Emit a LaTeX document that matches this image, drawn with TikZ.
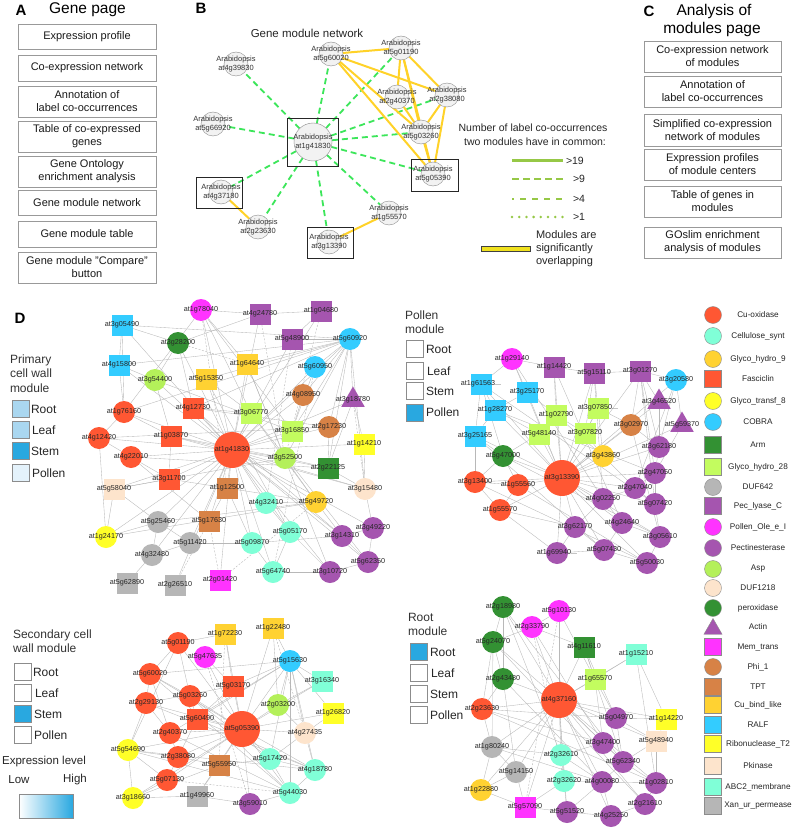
\documentclass[tikz,border=0pt]{standalone}
\usepackage{fontspec}
\setmainfont{Liberation Sans}
\usetikzlibrary{shapes.geometric,backgrounds}
\pgfdeclarelayer{bgw}
\pgfsetlayers{bgw,background,main}
\definecolor{cCu}{RGB}{255,87,51}
\definecolor{cCel}{RGB}{128,255,215}
\definecolor{cGold}{RGB}{255,210,50}
\definecolor{cYel}{RGB}{255,255,40}
\definecolor{cCob}{RGB}{51,204,255}
\definecolor{cDkg}{RGB}{51,145,51}
\definecolor{cLg}{RGB}{195,252,95}
\definecolor{cAsp}{RGB}{180,240,90}
\definecolor{cGray}{RGB}{182,182,182}
\definecolor{cPur}{RGB}{165,85,175}
\definecolor{cMag}{RGB}{255,51,255}
\definecolor{cPk}{RGB}{253,228,204}
\definecolor{cPhi}{RGB}{215,130,70}
\definecolor{cSt}{RGB}{41,168,224}
\definecolor{cLb}{RGB}{170,215,240}
\definecolor{cPb}{RGB}{228,242,251}
\definecolor{cGr}{RGB}{60,230,90}
\definecolor{cYl}{RGB}{255,210,40}
\definecolor{cLeg}{RGB}{150,200,70}
\definecolor{cBar}{RGB}{240,225,30}
\newcommand\netnode[5]{\node[#1,label={[glbl]center:#5}] (#2) at (#3,#4) {};}
\newcommand\bnode[5]{\node[bcir,#1,label={[blbl]center:Arabidopsis\\#5}] (#2) at (#3,#4) {};}
\newcommand\legsym[4]{\node[#1,lsym] (#2) at (713,#3) {}; \node[ltxt] (#2t) at (758,#3) {#4};}
\tikzset{
  every node/.style={inner sep=0pt,outer sep=0pt},
  tlet/.style={font=\fontsize{15}{17}\selectfont\bfseries},
  ttl/.style={font=\fontsize{15.5}{17}\selectfont},
  abox/.style={draw=black!40,line width=0.5pt,minimum width=138pt,align=center,font=\fontsize{11}{13}\selectfont,text=black!90},
  glbl/.style={font=\fontsize{7.2}{8}\selectfont,text=black!85},
  blbl/.style={font=\fontsize{7.5}{9}\selectfont,text=black!80,align=center},
  bcir/.style={circle,minimum size=24pt,fill=black!5,draw=black!45,line width=0.4pt},
  bsq/.style={draw=black!85,line width=0.7pt},
  gbase/.style={draw=none},
  ncir/.style={gbase,circle,minimum size=22pt},
  nsq/.style={gbase,rectangle,minimum size=21pt},
  ntri/.style={gbase,regular polygon,regular polygon sides=3,minimum size=27pt},
  ncu/.style={ncir,fill=cCu}, nfas/.style={nsq,fill=cCu},
  nralf/.style={nsq,fill=cCob}, ncob/.style={ncir,fill=cCob},
  nper/.style={ncir,fill=cDkg}, narm/.style={nsq,fill=cDkg},
  nasp/.style={ncir,fill=cAsp}, ngh/.style={nsq,fill=cLg},
  npk/.style={nsq,fill=cPk}, nd12/.style={ncir,fill=cPk},
  npol/.style={ncir,fill=cMag}, nmem/.style={nsq,fill=cMag},
  npecl/.style={nsq,fill=cPur}, npect/.style={ncir,fill=cPur}, nact/.style={ntri,fill=cPur},
  nphi/.style={ncir,fill=cPhi}, ntpt/.style={nsq,fill=cPhi},
  ncub/.style={nsq,fill=cGold}, ngh9/.style={ncir,fill=cGold},
  ngt/.style={ncir,fill=cYel}, nrib/.style={nsq,fill=cYel},
  ncel/.style={ncir,fill=cCel}, nabc/.style={nsq,fill=cCel},
  nd64/.style={ncir,fill=cGray}, nxan/.style={nsq,fill=cGray},
  nhub/.style={ncir,fill=cCu,minimum size=36pt},
  lsym/.style={draw=black!45,line width=0.4pt,minimum size=17pt},
  ltxt/.style={font=\fontsize{8.2}{10}\selectfont,text=black!85},
  lgbox/.style={draw=black!45,line width=0.6pt,minimum size=17pt},
  lgtxt/.style={font=\fontsize{12}{14}\selectfont,anchor=west,text=black!85},
  gedge/.style={draw=black!28,line width=0.35pt},
  gdash/.style={draw=black!30,line width=0.35pt,dash pattern=on 2pt off 1.5pt},
  gline/.style={draw=cGr,line width=1.8pt,dash pattern=on 6pt off 4pt},
  yline/.style={draw=cYl,line width=2pt},
}
\begin{document}
\begin{tikzpicture}[x=1pt,y=-1pt]
\useasboundingbox (0,0) rectangle (793,829);
\begin{pgfonlayer}{bgw}
\fill[white] (0,0) rectangle (793,829);
\end{pgfonlayer}
% ---------------- Panel A
\node[tlet] (lA) at (21,10) {A};
\node[ttl] (tA) at (87.5,10) {Gene page};
\node[abox,minimum height=25pt] (a1) at (87,36.5) {Expression profile};
\node[abox,minimum height=26pt] (a2) at (87,68) {Co-expression network};
\node[abox,minimum height=31pt] (a3) at (87,101.5) {Annotation of\\label co-occurrences};
\node[abox,minimum height=31pt] (a4) at (87,136.5) {Table of co-expressed\\genes};
\node[abox,minimum height=31pt] (a5) at (87,171.5) {Gene Ontology\\enrichment analysis};
\node[abox,minimum height=25pt] (a6) at (87,202.5) {Gene module network};
\node[abox,minimum height=26pt] (a7) at (87,234) {Gene module table};
\node[abox,minimum height=31pt] (a8) at (87,267.5) {Gene module "Compare"\\button};
% ---------------- Panel C
\node[tlet] (lC) at (649,11) {C};
\node[ttl] (tC1) at (714,11) {Analysis of};
\node[ttl] (tC2) at (712,29) {modules page};
\node[abox,minimum width=137pt,minimum height=31pt] (c1) at (712.5,56.5) {Co-expression network\\of modules};
\node[abox,minimum width=137pt,minimum height=31pt] (c2) at (712.5,91.5) {Annotation of\\label co-occurrences};
\node[abox,minimum width=137pt,minimum height=32pt] (c3) at (712.5,130) {Simplified co-expression\\network of modules};
\node[abox,minimum width=137pt,minimum height=31pt] (c4) at (712.5,164.5) {Expression profiles\\of module centers};
\node[abox,minimum width=137pt,minimum height=31pt] (c5) at (712.5,201.5) {Table of genes in\\modules};
\node[abox,minimum width=137pt,minimum height=31pt] (c6) at (712.5,242.5) {GOslim enrichment\\analysis of modules};
% ---------------- Panel B
\node[tlet] (lB) at (201,8) {B};
\node[font=\fontsize{11.5}{13}\selectfont,text=black!85] (tB) at (307,33) {Gene module network};
\bnode{minimum size=38pt}{B0}{313}{142}{at1g41830}
\bnode{}{B1}{236}{64}{at4g39830}
\bnode{}{B2}{331}{54}{at5g60020}
\bnode{}{B3}{401}{48}{at5g01190}
\bnode{}{B4}{397}{97}{at2g40370}
\bnode{}{B5}{447}{95}{at2g38080}
\bnode{}{B6}{421}{132}{at5g03260}
\bnode{}{B7}{433}{174}{at5g05390}
\bnode{}{B8}{213}{124}{at5g66920}
\bnode{}{B9}{221}{192}{at4g37180}
\bnode{}{B10}{258}{227}{at2g23630}
\bnode{}{B11}{329}{242}{at3g13390}
\bnode{}{B12}{389}{213}{at1g55570}
\node[bsq,minimum width=51pt,minimum height=48pt] (bx0) at (312.5,142) {};
\node[bsq,minimum width=47pt,minimum height=32pt] (bx7) at (434.5,175) {};
\node[bsq,minimum width=46pt,minimum height=31pt] (bx9) at (219,192.5) {};
\node[bsq,minimum width=46pt,minimum height=31pt] (bx11) at (330,242.5) {};
% legend B
\node[font=\fontsize{10.5}{12}\selectfont,text=black!85] (lg1) at (533,128) {Number of label co-occurrences};
\node[font=\fontsize{10.5}{12}\selectfont,text=black!85] (lg2) at (535,142) {two modules have in common:};
\coordinate (l1a) at (512,161); \coordinate (l1b) at (563,161);
\coordinate (l2a) at (512,179); \coordinate (l2b) at (563,179);
\coordinate (l3a) at (512,199); \coordinate (l3b) at (563,199);
\coordinate (l4a) at (512,217); \coordinate (l4b) at (563,217);
\draw[cLeg,line width=3pt] (l1a) -- (l1b);
\draw[cLeg,line width=2.5pt,dash pattern=on 7pt off 4pt] (l2a) -- (l2b);
\draw[cLeg,line width=2.5pt,dash pattern=on 2pt off 6pt on 6pt off 6pt on 6pt off 6pt on 6pt off 6pt on 6pt off 10pt] (l3a) -- (l3b);
\draw[cLeg,line width=2.8pt,line cap=round,dash pattern=on 0pt off 7.2pt] (l4a) -- (l4b);
\node[font=\fontsize{10.5}{12}\selectfont,anchor=west,text=black!85] (g19) at (566,161) {>19};
\node[font=\fontsize{10.5}{12}\selectfont,anchor=west,text=black!85] (g9) at (573,179) {>9};
\node[font=\fontsize{10.5}{12}\selectfont,anchor=west,text=black!85] (g4) at (573,199) {>4};
\node[font=\fontsize{10.5}{12}\selectfont,anchor=west,text=black!85] (g1) at (573,217) {>1};
\node[draw=black!75,fill=cBar,line width=0.6pt,minimum width=49pt,minimum height=5pt] (ybar) at (505.5,248.5) {};
\node[font=\fontsize{11}{13}\selectfont,anchor=west,align=left,text=black!85] (ovl) at (536,249) {Modules are\\significantly\\overlapping};
% ---------------- Panel D legends
\node[tlet] (lD) at (20,318) {D};
\node[font=\fontsize{12}{14.5}\selectfont,anchor=west,align=left,text=black!80] (prt) at (10,373.5) {Primary\\cell wall\\module};
\node[lgbox,fill=cLb] (pr1) at (20.5,409) {}; \node[lgtxt] (pr1t) at (31,409) {Root};
\node[lgbox,fill=cLb] (pr2) at (20.5,430) {}; \node[lgtxt] (pr2t) at (32,430) {Leaf};
\node[lgbox,fill=cSt] (pr3) at (20.5,451) {}; \node[lgtxt] (pr3t) at (31,451) {Stem};
\node[lgbox,fill=cPb] (pr4) at (20.5,473) {}; \node[lgtxt] (pr4t) at (32,473) {Pollen};
\node[font=\fontsize{12}{14}\selectfont,anchor=west,align=left,text=black!80] (pot) at (405,322) {Pollen\\module};
\node[lgbox] (po1) at (414.5,349) {}; \node[lgtxt] (po1t) at (426,349) {Root};
\node[lgbox] (po2) at (414.5,371) {}; \node[lgtxt] (po2t) at (427,371) {Leaf};
\node[lgbox] (po3) at (414.5,391) {}; \node[lgtxt] (po3t) at (426,391) {Stem};
\node[lgbox,fill=cSt] (po4) at (414.5,412.5) {}; \node[lgtxt] (po4t) at (426,412.5) {Pollen};
\node[font=\fontsize{12}{14}\selectfont,anchor=west,align=left,text=black!80] (sct) at (13,641) {Secondary cell\\wall module};
\node[lgbox] (sc1) at (22.5,672) {}; \node[lgtxt] (sc1t) at (33,672) {Root};
\node[lgbox] (sc2) at (22.5,693) {}; \node[lgtxt] (sc2t) at (35,693) {Leaf};
\node[lgbox,fill=cSt] (sc3) at (22.5,714) {}; \node[lgtxt] (sc3t) at (34,714) {Stem};
\node[lgbox] (sc4) at (22.5,735) {}; \node[lgtxt] (sc4t) at (34,735) {Pollen};
\node[font=\fontsize{12}{14}\selectfont,anchor=west,align=left,text=black!80] (rot) at (408,624.5) {Root\\module};
\node[lgbox,fill=cSt] (ro1) at (418.5,652) {}; \node[lgtxt] (ro1t) at (430,652) {Root};
\node[lgbox] (ro2) at (418.5,673) {}; \node[lgtxt] (ro2t) at (431,673) {Leaf};
\node[lgbox] (ro3) at (418.5,694) {}; \node[lgtxt] (ro3t) at (430,694) {Stem};
\node[lgbox] (ro4) at (418.5,715) {}; \node[lgtxt] (ro4t) at (430,715) {Pollen};
\node[font=\fontsize{11.5}{13}\selectfont,text=black!85] (exl) at (44,762) {Expression level};
\node[font=\fontsize{11.5}{13}\selectfont,text=black!85] (exlo) at (19,780) {Low};
\node[font=\fontsize{11.5}{13}\selectfont,text=black!85] (exhi) at (75,780) {High};
\node[draw=black!45,line width=0.5pt,left color=white,right color=cSt,minimum width=54pt,minimum height=24pt] (grad) at (46,806) {};
% ---------------- right legend
\legsym{ncu}{L1}{315}{Cu-oxidase}
\legsym{ncel}{L2}{336}{Cellulose\_synt}
\legsym{ngh9}{L3}{359}{Glyco\_hydro\_9}
\legsym{nfas}{L4}{379}{Fasciclin}
\legsym{ngt}{L5}{401}{Glyco\_transf\_8}
\legsym{ncob}{L6}{422}{COBRA}
\legsym{narm}{L7}{445}{Arm}
\legsym{ngh}{L8}{467}{Glyco\_hydro\_28}
\legsym{nd64}{L9}{487}{DUF642}
\legsym{npecl}{L10}{506}{Pec\_lyase\_C}
\legsym{npol}{L11}{527}{Pollen\_Ole\_e\_I}
\legsym{npect}{L12}{548}{Pectinesterase}
\legsym{nasp}{L13}{569}{Asp}
\legsym{nd12}{L14}{588}{DUF1218}
\legsym{nper}{L15}{608}{peroxidase}
\node[nact,draw=black!45,line width=0.4pt,minimum size=21pt] (L16) at (713,629) {}; \node[ltxt] (L16t) at (758,627) {Actin};
\legsym{nmem}{L17}{647}{Mem\_trans}
\legsym{nphi}{L18}{667}{Phi\_1}
\legsym{ntpt}{L19}{687}{TPT}
\legsym{ncub}{L20}{705}{Cu\_bind\_like}
\legsym{nralf}{L21}{725}{RALF}
\legsym{nrib}{L22}{744}{Ribonuclease\_T2}
\legsym{npk}{L23}{766}{Pkinase}
\legsym{nabc}{L24}{787}{ABC2\_membrane}
\legsym{nxan}{L25}{806}{Xan\_ur\_permease}
% ---------------- Primary network
\netnode{nralf}{P1}{122}{325}{at3g05490}
\netnode{nper}{P2}{178}{343}{at3g28200}
\netnode{nralf}{P3}{119}{365}{at4g15800}
\netnode{nasp}{P4}{155}{380}{at3g54400}
\netnode{ncu}{P5}{124}{412}{at1g76160}
\netnode{nfas}{P6}{193}{408}{at4g12730}
\netnode{ncu}{P7}{99}{438}{at4g12420}
\netnode{nfas}{P8}{171}{436}{at1g03870}
\netnode{ncu}{P9}{131}{457}{at4g22010}
\netnode{nfas}{P10}{169}{479}{at3g11700}
\netnode{npk}{P11}{114}{489}{at5g58040}
\netnode{npol}{P12}{201}{310}{at1g78040}
\netnode{npecl}{P13}{260}{314}{at4g24780}
\netnode{npecl}{P14}{321}{311}{at1g04680}
\netnode{npecl}{P15}{292}{339}{at5g48900}
\netnode{ncob}{P16}{350}{339}{at5g60920}
\netnode{ncub}{P17}{247}{364}{at1g64640}
\netnode{ncub}{P18}{206}{379}{at5g15350}
\netnode{ncob}{P19}{315}{367}{at5g60950}
\netnode{nphi}{P20}{303}{395}{at4g08950}
\netnode{nact}{P21}{353}{400}{at3g18780}
\netnode{ngh}{P22}{251}{413}{at3g06770}
\netnode{nphi}{P23}{329}{427}{at2g17230}
\netnode{ngh}{P24}{292}{431}{at3g16850}
\netnode{nrib}{P25}{364}{444}{at1g14210}
\netnode{nhub}{P0}{232}{450}{at1g41830}
\netnode{nasp}{P26}{285}{458}{at3g52500}
\netnode{narm}{P27}{328}{468}{at2g22125}
\netnode{ntpt}{P28}{227}{488}{at1g12500}
\netnode{nd12}{P29}{365}{489}{at3g15480}
\netnode{ncel}{P30}{266}{503}{at4g32410}
\netnode{ngh9}{P31}{316}{502}{at5g49720}
\netnode{ntpt}{P32}{209}{521}{at5g17630}
\netnode{ncel}{P33}{290}{532}{at5g05170}
\netnode{npect}{P34}{342}{536}{at3g14310}
\netnode{npect}{P35}{373}{528}{at3g49220}
\netnode{npect}{P36}{368}{562}{at5g62350}
\netnode{npect}{P37}{330}{572}{at3g10720}
\netnode{ncel}{P38}{273}{572}{at5g64740}
\netnode{ncel}{P39}{252}{543}{at5g09870}
\netnode{nmem}{P40}{220}{580}{at2g01420}
\netnode{nxan}{P41}{175}{585}{at2g26510}
\netnode{nxan}{P42}{127}{583}{at5g62890}
\netnode{nd64}{P43}{152}{555}{at4g32480}
\netnode{nd64}{P44}{190}{543}{at5g11420}
\netnode{nd64}{P45}{158}{522}{at5g25460}
\netnode{ngt}{P46}{106}{537}{at1g24170}
% ---------------- Pollen network
\netnode{npol}{Q1}{512}{359}{at1g29140}
\netnode{npecl}{Q2}{554}{367}{at1g14420}
\netnode{npecl}{Q3}{594}{373}{at5g15110}
\netnode{npecl}{Q4}{640}{371}{at3g01270}
\netnode{ncob}{Q5}{676}{380}{at3g20580}
\netnode{nralf}{Q6}{481}{384}{at1g61563...}
\netnode{nralf}{Q7}{527}{392}{at3g25170}
\netnode{nact}{Q8}{659}{402}{at3g46520}
\netnode{nact}{Q9}{682}{425}{at5g59370}
\netnode{nralf}{Q10}{495}{410}{at1g28270}
\netnode{ngh}{Q11}{556}{415}{at1g02790}
\netnode{ngh}{Q12}{598}{408}{at3g07850...}
\netnode{nphi}{Q13}{631}{425}{at3g02970}
\netnode{nralf}{Q14}{475}{436}{at3g25165}
\netnode{ngh}{Q15}{539}{434}{at5g48140}
\netnode{ngh}{Q16}{585}{433}{at3g07820}
\netnode{npect}{Q17}{659}{447}{at3g62180}
\netnode{nper}{Q18}{503}{456}{at5g47000}
\netnode{ngh9}{Q19}{603}{456}{at3g43860}
\netnode{ncu}{Q20}{475}{482}{at3g13400}
\netnode{ncu}{Q21}{518}{485}{at1g55560}
\netnode{nhub}{Q0}{562}{478}{at3g13390}
\netnode{npect}{Q22}{655}{473}{at2g47050}
\netnode{npect}{Q23}{635}{488}{at2g47040}
\netnode{npect}{Q24}{603}{499}{at4g02250}
\netnode{npect}{Q25}{655}{504}{at5g07420}
\netnode{ncu}{Q26}{500}{510}{at1g55570}
\netnode{npect}{Q27}{575}{527}{at3g62170}
\netnode{npect}{Q28}{622}{523}{at4g24640}
\netnode{npect}{Q29}{660}{537}{at3g05610}
\netnode{npect}{Q30}{557}{553}{at1g69940...}
\netnode{npect}{Q31}{604}{550}{at5g07430}
\netnode{npect}{Q32}{647}{563}{at5g50030}
% ---------------- Secondary network
\netnode{ncub}{S1}{225}{634}{at1g72230}
\netnode{ncub}{S2}{273}{628}{at1g22480}
\netnode{ncu}{S3}{178}{643}{at5g01190}
\netnode{npol}{S4}{205}{657}{at5g47635}
\netnode{ncob}{S5}{290}{661}{at5g15630}
\netnode{ncu}{S6}{150}{674}{at5g60020}
\netnode{nabc}{S7}{322}{681}{at3g16340}
\netnode{nfas}{S8}{233}{686}{at5g03170}
\netnode{ncu}{S9}{190}{696}{at5g03260}
\netnode{ncu}{S10}{146}{703}{at2g29130}
\netnode{nasp}{S11}{278}{705}{at2g03200}
\netnode{nrib}{S12}{333}{713}{at1g26820}
\netnode{nfas}{S13}{197}{719}{at5g60490}
\netnode{nhub}{S0}{242}{729}{at5g05390}
\netnode{nd12}{S14}{305}{733}{at4g27435}
\netnode{ncu}{S15}{170}{733}{at2g40370}
\netnode{ngt}{S16}{128}{750}{at5g54690}
\netnode{ncu}{S17}{178}{757}{at2g38080}
\netnode{ntpt}{S18}{219}{765}{at5g55950}
\netnode{ncel}{S19}{270}{759}{at5g17420}
\netnode{ncel}{S20}{315}{770}{at4g18780}
\netnode{ncu}{S21}{167}{780}{at5g07130}
\netnode{ngt}{S22}{133}{798}{at3g18660}
\netnode{nxan}{S23}{197}{796}{at1g49960}
\netnode{ncel}{S24}{290}{793}{at5g44030}
\netnode{npect}{S25}{250}{804}{at3g59010}
% ---------------- Root network
\netnode{nper}{R1}{503}{607}{at2g18980}
\netnode{npol}{R2}{559}{611}{at5g10130}
\netnode{npol}{R3}{532}{627}{at2g33790}
\netnode{nper}{R4}{493}{642}{at5g24070}
\netnode{narm}{R5}{584}{647}{at4g11610}
\netnode{nabc}{R6}{636}{654}{at1g15210}
\netnode{nper}{R7}{503}{679}{at2g43480}
\netnode{ngh}{R8}{595}{679}{at1g65570}
\netnode{nhub}{R0}{559}{700}{at4g37160}
\netnode{ncu}{R9}{482}{709}{at2g23630}
\netnode{npect}{R10}{616}{718}{at5g04970}
\netnode{nrib}{R11}{666}{719}{at1g14220}
\netnode{npk}{R12}{656}{741}{at5g48940}
\netnode{nd64}{R13}{492}{747}{at1g80240}
\netnode{npect}{R14}{603}{743}{at3g47400}
\netnode{ncel}{R15}{561}{755}{at2g32610}
\netnode{npect}{R16}{623}{762}{at5g62340}
\netnode{nd64}{R17}{516}{772}{at5g14150}
\netnode{ncel}{R18}{564}{781}{at2g32620}
\netnode{npect}{R19}{602}{782}{at4g00080}
\netnode{npect}{R20}{656}{783}{at1g02810}
\netnode{ngh9}{R21}{481}{790}{at1g22880}
\netnode{nmem}{R22}{525}{807}{at5g57090}
\netnode{npect}{R23}{567}{812}{at5g51520}
\netnode{npect}{R24}{645}{804}{at2g21610}
\netnode{npect}{R25}{611}{816}{at4g25250}
% ---------------- edges (background)
\begin{pgfonlayer}{background}
\foreach \b in {B1,B2,B3,B5,B6,B7,B8,B9,B10,B11,B12} \draw[gline] (B0) -- (\b);
\foreach \a/\b in {B2/B3,B2/B5,B2/B6,B2/B7,B3/B4,B3/B6,B3/B7,B3/B5,B4/B6,B5/B6,B5/B7,B6/B7,B9/B10,B11/B12} \draw[yline] (\a) -- (\b);
% primary
\foreach \i in {1,...,41,43,44,45,46} \draw[gedge] (P0) -- (P\i);
\foreach \a/\b in {P1/P2,P1/P3,P12/P17,P12/P22,P12/P24,P13/P14,P14/P15,P15/P16,P16/P19,P16/P21,P16/P20,P16/P23,P16/P24,P16/P26,P16/P27,P16/P29,P16/P17,P16/P18,P16/P6,P21/P25,P25/P29,P2/P4,P2/P6,P2/P13,P3/P4,P3/P5,P4/P8,P5/P7,P5/P8,P7/P9,P8/P10,P9/P10,P10/P11,P11/P45,P11/P46,P6/P22,P6/P23,P8/P26,P10/P31,P17/P26,P18/P22,P20/P24,P22/P31,P23/P27,P26/P27,P26/P31,P27/P29,P28/P32,P28/P39,P30/P31,P30/P33,P31/P34,P33/P38,P34/P35,P34/P36,P35/P36,P36/P37,P37/P38,P38/P39,P39/P44,P43/P44,P43/P45,P44/P45,P45/P46,P42/P43,P39/P34,P33/P37,P29/P35,P46/P7,P9/P32,P12/P5,P12/P13,P1/P5,P19/P24,P21/P27,P1/P16,P3/P16,P5/P16,P7/P23,P11/P26,P46/P31,P45/P31,P9/P27,P17/P37,P18/P33,P4/P24,P22/P36,P6/P34,P8/P29} \draw[gedge] (\a) -- (\b);
\foreach \a/\b in {P12/P28,P13/P26,P40/P32,P2/P17,P41/P32,P14/P26,P21/P29,P15/P30,P19/P38,P40/P31} \draw[gdash] (\a) -- (\b);
% pollen
\foreach \i in {1,...,32} \draw[gedge] (Q0) -- (Q\i);
\foreach \a/\b in {Q1/Q2,Q1/Q6,Q1/Q7,Q2/Q3,Q3/Q4,Q4/Q5,Q4/Q8,Q4/Q13,Q4/Q17,Q4/Q22,Q3/Q12,Q2/Q11,Q6/Q10,Q6/Q14,Q7/Q10,Q7/Q11,Q10/Q14,Q10/Q15,Q11/Q15,Q11/Q16,Q12/Q16,Q12/Q13,Q13/Q17,Q15/Q18,Q16/Q19,Q14/Q18,Q18/Q20,Q18/Q21,Q20/Q21,Q20/Q26,Q21/Q26,Q17/Q22,Q22/Q23,Q23/Q24,Q22/Q25,Q23/Q25,Q24/Q27,Q24/Q28,Q25/Q29,Q27/Q30,Q28/Q31,Q29/Q32,Q30/Q31,Q31/Q32,Q26/Q30,Q19/Q23,Q8/Q17,Q9/Q22,Q5/Q9,Q5/Q17,Q28/Q29,Q27/Q31,Q26/Q27,Q6/Q18,Q14/Q20,Q11/Q19,Q3/Q16,Q12/Q19,Q4/Q25,Q3/Q24,Q2/Q28,Q5/Q23,Q13/Q29,Q20/Q32,Q14/Q31,Q1/Q24,Q6/Q25,Q10/Q22,Q18/Q29,Q21/Q32} \draw[gedge] (\a) -- (\b);
% secondary
\foreach \i in {1,...,25} \draw[gedge] (S0) -- (S\i);
\foreach \a/\b in {S1/S3,S1/S8,S2/S5,S2/S11,S3/S6,S3/S9,S4/S8,S5/S7,S5/S8,S5/S11,S5/S12,S5/S14,S5/S19,S5/S20,S5/S24,S6/S10,S6/S9,S6/S15,S7/S11,S8/S13,S9/S13,S10/S15,S10/S16,S11/S14,S12/S14,S13/S17,S14/S19,S14/S20,S15/S17,S16/S17,S16/S21,S16/S22,S17/S18,S17/S21,S18/S19,S18/S23,S19/S20,S19/S24,S20/S24,S21/S22,S22/S23,S23/S25,S24/S25,S6/S5,S10/S8,S16/S20,S22/S18,S3/S16,S9/S19,S13/S20,S15/S24,S6/S24,S10/S20,S16/S24,S9/S24,S15/S5,S13/S5} \draw[gedge] (\a) -- (\b);
\foreach \a/\b in {S1/S18,S25/S4,S2/S14,S21/S24} \draw[gdash] (\a) -- (\b);
% root
\foreach \i in {1,...,25} \draw[gedge] (R0) -- (R\i);
\foreach \a/\b in {R1/R4,R1/R7,R2/R3,R3/R4,R3/R5,R4/R7,R4/R9,R4/R13,R5/R8,R5/R10,R6/R8,R6/R11,R6/R20,R7/R9,R7/R17,R8/R10,R8/R14,R9/R13,R9/R14,R10/R11,R10/R12,R10/R16,R11/R12,R12/R16,R12/R20,R13/R15,R13/R17,R13/R21,R13/R19,R14/R15,R14/R16,R15/R18,R15/R19,R16/R19,R16/R20,R17/R21,R17/R22,R18/R19,R18/R22,R18/R23,R19/R20,R19/R23,R19/R25,R20/R24,R21/R22,R22/R23,R23/R25,R24/R25,R2/R8,R1/R16,R9/R20,R1/R15,R4/R24,R3/R14,R7/R19,R9/R10,R5/R16} \draw[gedge] (\a) -- (\b);
\foreach \a/\b in {R2/R22,R3/R18} \draw[gdash] (\a) -- (\b);
\end{pgfonlayer}
\end{tikzpicture}
\end{document}
